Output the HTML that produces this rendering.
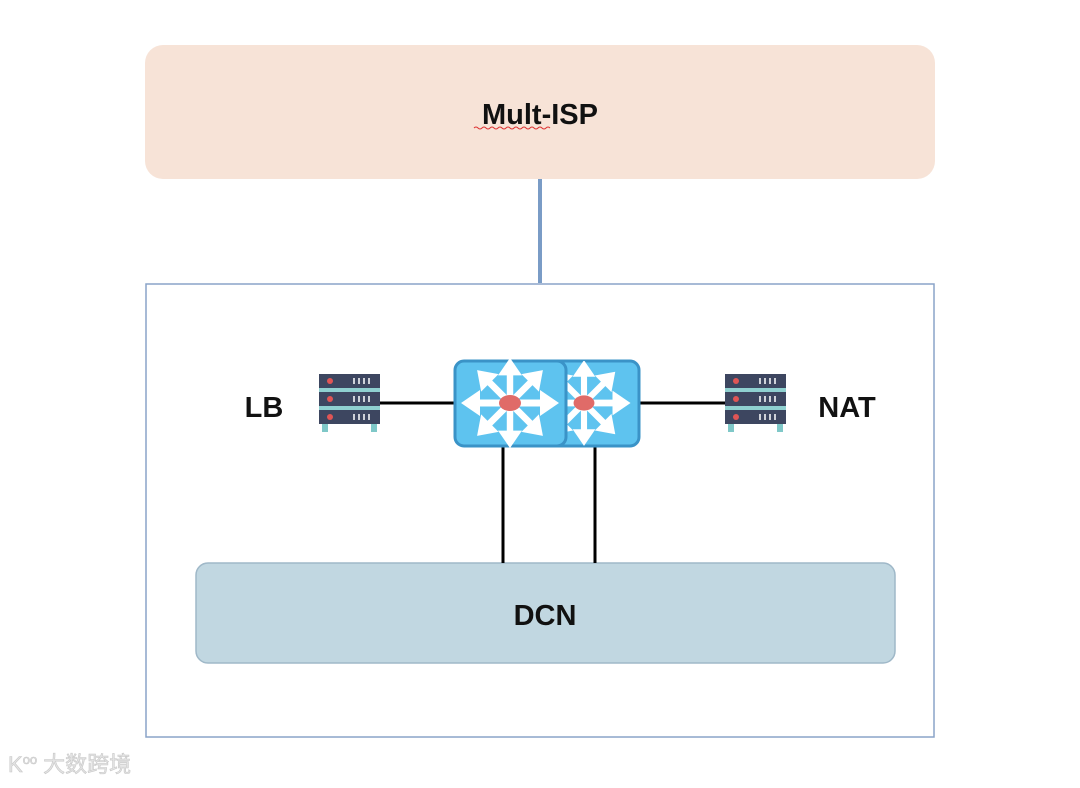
<!DOCTYPE html>
<html><head><meta charset="utf-8"><style>
body{margin:0;width:1080px;height:783px;background:#fff;overflow:hidden;font-family:"Liberation Sans","Noto Sans CJK SC",sans-serif;}
</style></head><body>
<svg width="1080" height="783" viewBox="0 0 1080 783" xmlns="http://www.w3.org/2000/svg">
<defs>
<g id="srv">
  <rect x="3" y="50" width="6" height="8" fill="#7fc8c8"/>
  <rect x="52" y="50" width="6" height="8" fill="#7fc8c8"/>
  <rect x="0" y="11" width="61" height="8" fill="#8fd0d0"/>
  <rect x="0" y="29" width="61" height="8" fill="#8fd0d0"/>
  <rect x="0" y="0" width="61" height="14" fill="#3d4660"/>
  <rect x="0" y="18" width="61" height="14" fill="#3d4660"/>
  <rect x="0" y="36" width="61" height="14" fill="#3d4660"/>
  <circle cx="11" cy="7" r="3" fill="#e05555"/><circle cx="11" cy="25" r="3" fill="#e05555"/><circle cx="11" cy="43" r="3" fill="#e05555"/>
  <g stroke="#fff" stroke-width="1.5">
   <path d="M35 4v6M40 4v6M45 4v6M50 4v6M35 22v6M40 22v6M45 22v6M50 22v6M35 40v6M40 40v6M45 40v6M50 40v6"/>
  </g>
</g>
<g id="arr">
  <line x1="0" y1="0" x2="36" y2="0" stroke="#fff" stroke-width="7"/>
  <polygon points="49,0 30,-13 30,13" fill="#fff"/>
</g>
<g id="sw">
  <g transform="rotate(0)"><use href="#arr"/></g>
  <g transform="rotate(45) scale(0.95)"><use href="#arr"/></g>
  <g transform="rotate(90) scale(0.92)"><use href="#arr"/></g>
  <g transform="rotate(135) scale(0.95)"><use href="#arr"/></g>
  <g transform="rotate(180)"><use href="#arr"/></g>
  <g transform="rotate(225) scale(0.95)"><use href="#arr"/></g>
  <g transform="rotate(270) scale(0.92)"><use href="#arr"/></g>
  <g transform="rotate(315) scale(0.95)"><use href="#arr"/></g>
  <ellipse cx="0" cy="0" rx="11" ry="8" fill="#e06b68"/>
</g>
<clipPath id="c2"><rect x="540" y="361" width="99" height="85" rx="9"/></clipPath>
</defs>
<rect x="145" y="45" width="790" height="134" rx="18" fill="#f7e3d7"/>
<text x="540" y="124" text-anchor="middle" font-size="29" font-weight="bold" fill="#111">Mult-ISP</text>
<path d="M474 128 q2 -2 4 0 t4 0 t4 0 t4 0 t4 0 t4 0 t4 0 t4 0 t4 0 t4 0 t4 0 t4 0 t4 0 t4 0 t4 0 t4 0 t4 0 t4 0 t4 0" stroke="#d33" stroke-width="1" fill="none"/>
<line x1="540" y1="179" x2="540" y2="283" stroke="#7a9cc6" stroke-width="4"/>
<rect x="146" y="284" width="788" height="453" fill="none" stroke="#8aa4c8" stroke-width="1.5"/>
<rect x="196" y="563" width="699" height="100" rx="12" fill="#c1d7e1" stroke="#9fb8c8" stroke-width="1.5"/>
<text x="545" y="625" text-anchor="middle" font-size="29" font-weight="bold" fill="#111">DCN</text>
<line x1="380" y1="403" x2="454" y2="403" stroke="#000" stroke-width="3"/>
<line x1="640" y1="403" x2="725" y2="403" stroke="#000" stroke-width="3"/>
<line x1="503" y1="446" x2="503" y2="563" stroke="#000" stroke-width="3"/>
<line x1="595" y1="446" x2="595" y2="563" stroke="#000" stroke-width="3"/>
<rect x="540" y="361" width="99" height="85" rx="9" fill="#5ec3ef" stroke="#3a93c7" stroke-width="3"/>
<g clip-path="url(#c2)"><g transform="translate(584,403) scale(0.95)"><use href="#sw"/></g></g>
<rect x="455" y="361" width="111" height="85" rx="9" fill="#5ec3ef" stroke="#3a93c7" stroke-width="3"/>
<g transform="translate(510,403)"><use href="#sw"/></g>
<use href="#srv" x="319" y="374"/>
<use href="#srv" x="725" y="374"/>
<text x="264" y="417" text-anchor="middle" font-size="29" font-weight="bold" fill="#111">LB</text>
<text x="847" y="417" text-anchor="middle" font-size="29" font-weight="bold" fill="#111">NAT</text>
<text x="8" y="772" font-size="22" fill="#e4e4e4" stroke="#c8c8c8" stroke-width="0.6">K<tspan font-size="13" dy="-8">oo</tspan><tspan dy="8" dx="6">大数跨境</tspan></text>
</svg>
</body></html>
